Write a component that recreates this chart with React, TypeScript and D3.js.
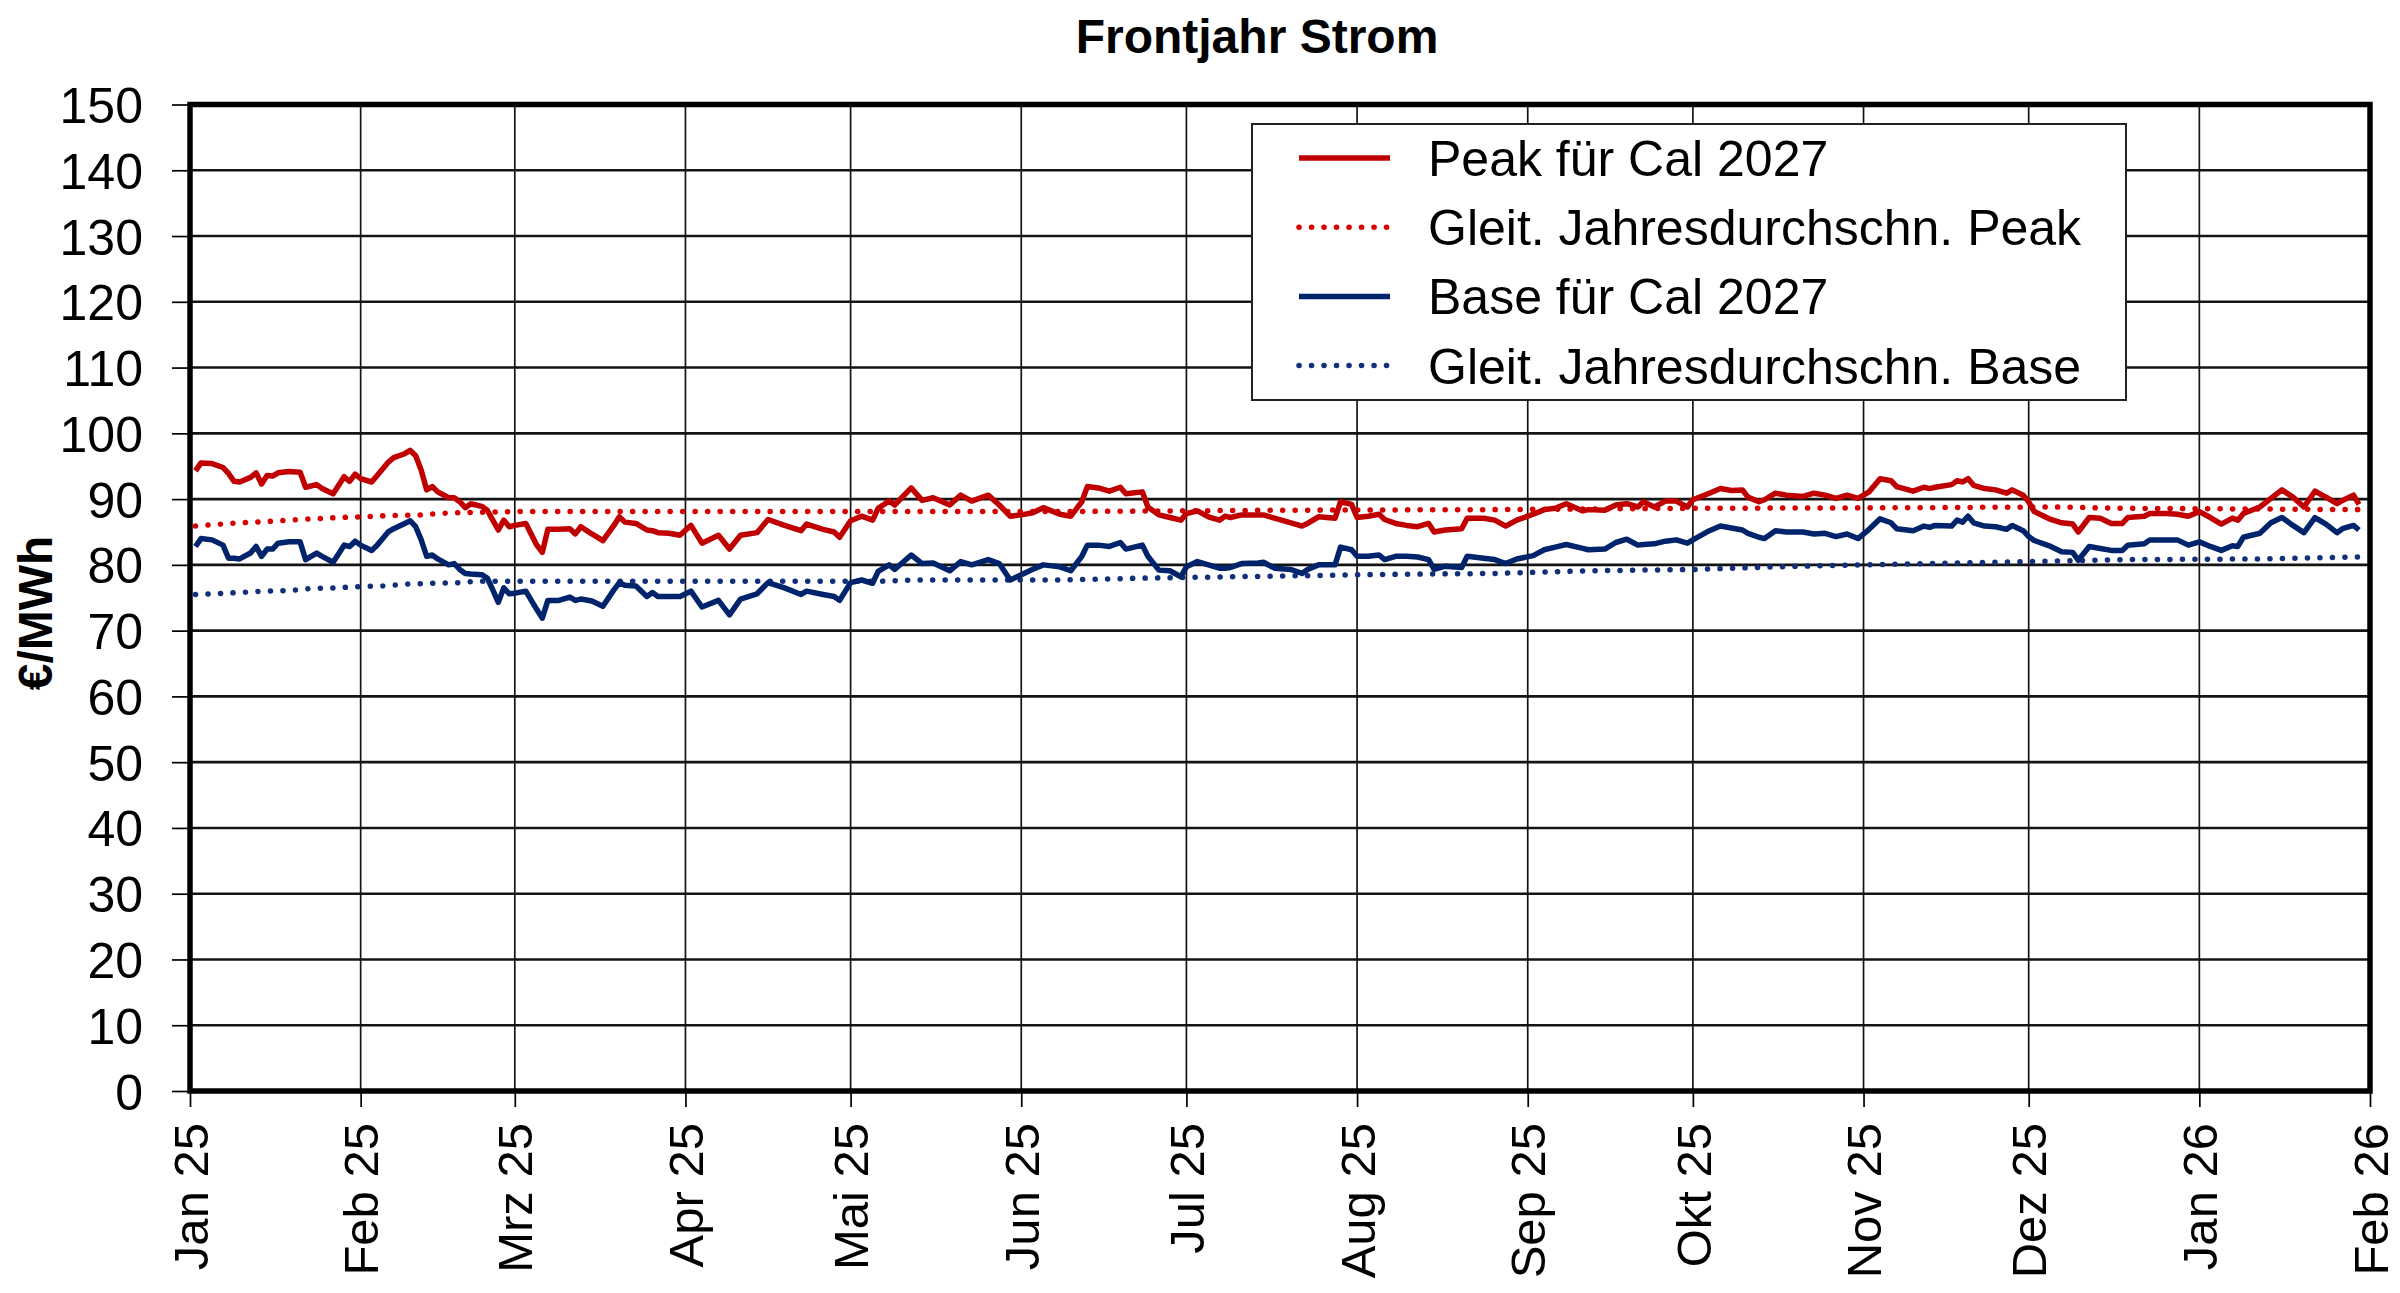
import { useEffect, useRef } from 'react';
import * as d3 from 'd3';

// Handelstage mit Peak und Base Cal 2027 in €/MWh
const tradeDates = [
  '2025-01-02', '2025-01-03', '2025-01-05', '2025-01-07', '2025-01-08', '2025-01-09', '2025-01-10', '2025-01-12',
  '2025-01-13', '2025-01-14', '2025-01-15', '2025-01-16', '2025-01-17', '2025-01-19', '2025-01-21', '2025-01-22',
  '2025-01-24', '2025-01-25', '2025-01-27', '2025-01-29', '2025-01-30', '2025-01-31', '2025-02-01', '2025-02-03',
  '2025-02-04', '2025-02-06', '2025-02-07', '2025-02-09', '2025-02-10', '2025-02-11', '2025-02-12', '2025-02-13',
  '2025-02-14', '2025-02-15', '2025-02-17', '2025-02-18', '2025-02-19', '2025-02-20', '2025-02-21', '2025-02-23',
  '2025-02-24', '2025-02-25', '2025-02-26', '2025-02-27', '2025-02-28', '2025-03-01', '2025-03-03', '2025-03-05',
  '2025-03-06', '2025-03-07', '2025-03-09', '2025-03-11', '2025-03-12', '2025-03-13', '2025-03-15', '2025-03-17',
  '2025-03-19', '2025-03-20', '2025-03-21', '2025-03-23', '2025-03-25', '2025-03-26', '2025-03-27', '2025-03-29',
  '2025-03-31', '2025-04-02', '2025-04-04', '2025-04-07', '2025-04-09', '2025-04-11', '2025-04-14', '2025-04-16',
  '2025-04-19', '2025-04-22', '2025-04-23', '2025-04-26', '2025-04-28', '2025-04-29', '2025-05-01', '2025-05-03',
  '2025-05-05', '2025-05-06', '2025-05-08', '2025-05-09', '2025-05-12', '2025-05-14', '2025-05-16', '2025-05-19',
  '2025-05-21', '2025-05-23', '2025-05-26', '2025-05-28', '2025-05-30', '2025-06-01', '2025-06-03', '2025-06-05',
  '2025-06-08', '2025-06-10', '2025-06-12', '2025-06-13', '2025-06-15', '2025-06-17', '2025-06-19', '2025-06-20',
  '2025-06-23', '2025-06-24', '2025-06-26', '2025-06-28', '2025-06-30', '2025-07-01', '2025-07-03', '2025-07-05',
  '2025-07-07', '2025-07-08', '2025-07-09', '2025-07-11', '2025-07-14', '2025-07-15', '2025-07-17', '2025-07-20',
  '2025-07-22', '2025-07-23', '2025-07-25', '2025-07-28', '2025-07-29', '2025-07-31', '2025-08-01', '2025-08-03',
  '2025-08-05', '2025-08-06', '2025-08-08', '2025-08-10', '2025-08-12', '2025-08-14', '2025-08-15', '2025-08-17',
  '2025-08-20', '2025-08-21', '2025-08-24', '2025-08-26', '2025-08-28', '2025-08-30', '2025-09-02', '2025-09-04',
  '2025-09-06', '2025-09-08', '2025-09-11', '2025-09-12', '2025-09-15', '2025-09-17', '2025-09-19', '2025-09-21',
  '2025-09-22', '2025-09-24', '2025-09-26', '2025-09-28', '2025-09-30', '2025-10-01', '2025-10-04', '2025-10-06',
  '2025-10-08', '2025-10-10', '2025-10-11', '2025-10-13', '2025-10-14', '2025-10-16', '2025-10-18', '2025-10-21',
  '2025-10-23', '2025-10-25', '2025-10-27', '2025-10-29', '2025-10-31', '2025-11-02', '2025-11-04', '2025-11-06',
  '2025-11-07', '2025-11-10', '2025-11-12', '2025-11-13', '2025-11-14', '2025-11-17', '2025-11-18', '2025-11-19',
  '2025-11-20', '2025-11-21', '2025-11-23', '2025-11-25', '2025-11-27', '2025-11-28', '2025-11-30', '2025-12-01',
  '2025-12-02', '2025-12-05', '2025-12-07', '2025-12-09', '2025-12-10', '2025-12-12', '2025-12-14', '2025-12-16',
  '2025-12-18', '2025-12-19', '2025-12-22', '2025-12-23', '2025-12-26', '2025-12-28', '2025-12-30', '2026-01-01',
  '2026-01-03', '2026-01-05', '2026-01-07', '2026-01-08', '2026-01-09', '2026-01-12', '2026-01-14', '2026-01-16',
  '2026-01-18', '2026-01-20', '2026-01-22', '2026-01-24', '2026-01-26', '2026-01-27', '2026-01-29', '2026-01-30',
];

const peakCal27 = [
  94.3, 95.5, 95.4, 94.8, 93.9, 92.7, 92.6, 93.3, 94.0, 92.3, 93.6, 93.5, 94.0, 94.2, 94.1, 91.8,
  92.2, 91.6, 90.8, 93.4, 92.7, 93.8, 93.1, 92.6, 93.6, 95.6, 96.3, 96.9, 97.4, 96.6, 94.4, 91.4,
  91.9, 91.1, 90.2, 90.2, 89.6, 88.7, 89.3, 88.9, 88.3, 86.8, 85.3, 86.8, 85.8, 86.0, 86.3, 83.0,
  81.9, 85.4, 85.4, 85.5, 84.7, 85.8, 84.7, 83.7, 86.0, 87.3, 86.5, 86.3, 85.3, 85.2, 84.9, 84.8,
  84.5, 86.0, 83.3, 84.5, 82.4, 84.5, 84.9, 86.9, 86.0, 85.2, 86.2, 85.4, 85.0, 84.2, 86.7, 87.4,
  86.8, 88.6, 89.7, 89.1, 91.7, 89.8, 90.2, 89.1, 90.6, 89.7, 90.6, 89.1, 87.4, 87.6, 87.9, 88.7,
  87.7, 87.4, 89.6, 91.9, 91.7, 91.2, 91.8, 90.8, 91.1, 88.8, 87.6, 87.2, 86.8, 87.8, 88.2, 87.3,
  86.8, 87.4, 87.2, 87.6, 87.6, 87.6, 87.1, 86.4, 85.9, 86.3, 87.3, 87.1, 89.6, 89.2, 87.2, 87.4,
  87.7, 86.9, 86.3, 86.0, 85.8, 86.3, 85.0, 85.3, 85.5, 87.1, 87.1, 86.8, 85.9, 86.8, 87.7, 88.4,
  88.6, 89.3, 88.2, 88.4, 88.3, 89.1, 89.3, 88.8, 89.6, 88.8, 89.7, 89.7, 88.8, 89.9, 90.9, 91.6,
  91.3, 91.4, 90.3, 89.6, 89.9, 90.9, 90.6, 90.4, 90.9, 90.6, 90.1, 90.6, 90.1, 91.1, 93.1, 92.8,
  91.9, 91.2, 91.8, 91.6, 91.8, 92.2, 92.8, 92.6, 93.1, 92.1, 91.6, 91.4, 90.9, 91.4, 90.6, 89.6,
  88.1, 86.9, 86.4, 86.2, 85.0, 87.2, 87.1, 86.3, 86.3, 87.2, 87.4, 87.8, 87.8, 87.7, 87.4, 88.1,
  87.2, 86.2, 87.1, 86.8, 87.8, 88.8, 90.1, 91.4, 90.3, 88.8, 91.2, 90.3, 89.3, 89.8, 90.6, 89.2,
];

const baseCal27 = [
  82.8, 84.0, 83.8, 83.0, 81.0, 81.0, 80.9, 81.8, 82.8, 81.3, 82.4, 82.4, 83.3, 83.5, 83.5, 80.8,
  81.8, 81.3, 80.4, 83.0, 82.8, 83.6, 83.0, 82.2, 83.0, 85.0, 85.5, 86.3, 86.7, 85.8, 83.8, 81.3,
  81.5, 80.9, 80.0, 80.2, 79.3, 78.7, 78.6, 78.5, 78.0, 76.2, 74.3, 76.5, 75.6, 75.7, 76.0, 73.2,
  71.9, 74.6, 74.6, 75.1, 74.6, 74.8, 74.5, 73.7, 76.2, 77.3, 76.9, 76.8, 75.2, 75.8, 75.2, 75.2,
  75.2, 76.0, 73.6, 74.6, 72.4, 74.8, 75.6, 77.3, 76.5, 75.5, 76.0, 75.5, 75.2, 74.6, 77.3, 77.7,
  77.2, 79.0, 80.0, 79.3, 81.5, 80.2, 80.3, 79.1, 80.5, 80.0, 80.8, 80.2, 77.7, 78.5, 79.3, 80.0,
  79.7, 79.1, 81.3, 83.0, 83.0, 82.8, 83.4, 82.4, 83.0, 81.3, 79.2, 79.1, 78.2, 79.7, 80.5, 80.0,
  79.5, 79.5, 79.6, 80.2, 80.3, 80.4, 79.5, 79.3, 78.7, 79.3, 80.0, 80.0, 82.7, 82.3, 81.3, 81.3,
  81.5, 80.8, 81.3, 81.3, 81.2, 80.8, 79.3, 79.8, 79.6, 81.3, 81.0, 80.8, 80.2, 80.9, 81.4, 82.3,
  82.7, 83.1, 82.5, 82.3, 82.4, 83.4, 83.9, 83.0, 83.1, 83.2, 83.6, 83.8, 83.3, 83.8, 85.2, 85.9,
  85.6, 85.3, 84.8, 84.2, 84.0, 85.2, 85.0, 85.0, 84.7, 84.8, 84.3, 84.7, 84.0, 85.4, 87.0, 86.4,
  85.5, 85.2, 85.9, 85.7, 86.0, 85.9, 86.8, 86.5, 87.4, 86.4, 85.9, 85.8, 85.4, 86.0, 85.2, 84.3,
  83.7, 82.8, 82.0, 81.9, 80.7, 82.8, 82.5, 82.2, 82.2, 83.0, 83.2, 83.8, 83.8, 83.8, 83.0, 83.5,
  82.8, 82.2, 82.9, 82.8, 84.2, 84.8, 86.4, 87.2, 86.0, 84.9, 87.2, 86.2, 84.9, 85.5, 86.0, 85.3,
];

// Gleitende Jahresdurchschnitte
const avgDatesPeak = [
  '2025-01-02', '2025-01-05', '2025-01-10', '2025-01-15', '2025-01-19', '2025-01-23', '2025-01-28', '2025-02-01',
  '2025-02-06', '2025-02-12', '2025-02-17', '2025-02-22', '2025-03-01', '2025-04-15', '2025-06-08', '2025-07-15',
  '2025-08-26', '2025-10-01', '2025-11-13', '2025-12-05', '2025-12-18', '2026-01-10', '2026-01-30',
];
const peakAvg = [
  85.9, 86.1, 86.4, 86.6, 86.8, 87.0, 87.2, 87.3, 87.5, 87.6, 87.9, 88.0, 88.1, 88.1, 88.1, 88.3,
  88.4, 88.6, 88.7, 88.8, 88.6, 88.5, 88.4,
];

const avgDatesBase = [
  '2025-01-02', '2025-01-05', '2025-01-10', '2025-01-14', '2025-01-19', '2025-01-23', '2025-01-27', '2025-02-01',
  '2025-02-05', '2025-02-10', '2025-02-14', '2025-02-19', '2025-02-22', '2025-03-21', '2025-05-06', '2025-05-12',
  '2025-06-08', '2025-06-24', '2025-07-10', '2025-07-26', '2025-08-01', '2025-08-13', '2025-08-26', '2025-09-12',
  '2025-10-01', '2025-10-16', '2025-10-31', '2025-11-13', '2025-12-01', '2025-12-19', '2026-01-12', '2026-01-30',
];
const baseAvg = [
  75.5, 75.6, 75.8, 76.0, 76.1, 76.4, 76.5, 76.7, 76.8, 77.1, 77.2, 77.3, 77.5, 77.5, 77.5, 77.7,
  77.7, 78.0, 78.2, 78.4, 78.5, 78.6, 78.7, 79.1, 79.3, 79.7, 80.0, 80.2, 80.5, 80.8, 80.9, 81.2,
];

const monthTicks = [
  '2025-01-01', '2025-02-01', '2025-03-01', '2025-04-01', '2025-05-01', '2025-06-01', '2025-07-01',
  '2025-08-01', '2025-09-01', '2025-10-01', '2025-11-01', '2025-12-01', '2026-01-01', '2026-02-01',
];
const monthLabels = [
  'Jan 25', 'Feb 25', 'Mrz 25', 'Apr 25', 'Mai 25', 'Jun 25', 'Jul 25',
  'Aug 25', 'Sep 25', 'Okt 25', 'Nov 25', 'Dez 25', 'Jan 26', 'Feb 26',
];
const yTicks = [0, 10, 20, 30, 40, 50, 60, 70, 80, 90, 100, 110, 120, 130, 140, 150];

const legendLabels = [
  'Peak für Cal 2027',
  'Gleit. Jahresdurchschn. Peak',
  'Base für Cal 2027',
  'Gleit. Jahresdurchschn. Base',
];

const FONT = '"Liberation Sans", Arial, sans-serif';
const RED = '#c00000';
const RED_DOT = '#d60000';
const BLUE = '#00246b';
const BLUE_DOT = '#12307a';

export default function App() {
  const svgRef = useRef<SVGSVGElement>(null);
  const width = 2400;
  const height = 1293;

  useEffect(() => {
    if (!svgRef.current) return;
    const parse = d3.timeParse('%Y-%m-%d');
    const left = 190;
    const right = 2370;
    const top = 104.5;
    const bottom = 1091;

    d3.select(svgRef.current).selectAll('*').remove();
    const svg = d3.select(svgRef.current).attr('width', width).attr('height', height);
    svg.append('rect').attr('width', width).attr('height', height).attr('fill', '#fff');

    const x = d3
      .scaleTime()
      .domain([parse(monthTicks[0])!, parse(monthTicks[monthTicks.length - 1])!])
      .range([left, right]);
    const y = d3.scaleLinear().domain([0, 150]).range([bottom, top]);

    // Gitternetz
    svg
      .append('g')
      .selectAll('line')
      .data(yTicks.slice(1, -1))
      .join('line')
      .attr('x1', left)
      .attr('x2', right)
      .attr('y1', (d) => y(d))
      .attr('y2', (d) => y(d))
      .attr('stroke', '#141414')
      .attr('stroke-width', 2.6);

    svg
      .append('g')
      .selectAll('line')
      .data(monthTicks.slice(1, -1))
      .join('line')
      .attr('x1', (d) => x(parse(d)!))
      .attr('x2', (d) => x(parse(d)!))
      .attr('y1', top)
      .attr('y2', bottom)
      .attr('stroke', '#141414')
      .attr('stroke-width', 1.7);

    // Achsen
    const yAxis = svg
      .append('g')
      .attr('transform', `translate(${left},0)`)
      .call(d3.axisLeft(y).tickValues(yTicks).tickSize(18).tickPadding(29).tickFormat(d3.format('d')));
    yAxis.select('.domain').remove();
    yAxis.selectAll('line').attr('stroke', '#000').attr('stroke-width', 1.7);
    yAxis
      .selectAll('text')
      .attr('dy', '0.36em')
      .style('font-family', FONT)
      .style('font-size', '50px')
      .attr('fill', '#000');

    const xAxis = svg
      .append('g')
      .attr('transform', `translate(0,${bottom})`)
      .call(
        d3
          .axisBottom(x)
          .tickValues(monthTicks.map((d) => parse(d)!))
          .tickSize(16)
          .tickFormat((_, i) => monthLabels[i])
      );
    xAxis.select('.domain').remove();
    xAxis.selectAll('line').attr('stroke', '#000').attr('stroke-width', 1.7);
    xAxis
      .selectAll('text')
      .attr('y', 0)
      .attr('x', -32)
      .attr('dy', '0.35em')
      .attr('transform', 'rotate(-90)')
      .style('text-anchor', 'end')
      .style('font-family', FONT)
      .style('font-size', '49px')
      .attr('fill', '#000');

    // Rahmen
    svg
      .append('rect')
      .attr('x', left)
      .attr('y', top)
      .attr('width', right - left)
      .attr('height', bottom - top)
      .attr('fill', 'none')
      .attr('stroke', '#000')
      .attr('stroke-width', 5.5);

    // Linien
    const line = d3
      .line<[string, number]>()
      .x((d) => x(parse(d[0])!))
      .y((d) => y(d[1]));

    const dotted = (dates: string[], values: number[], color: string) =>
      svg
        .append('path')
        .attr('d', line(dates.map((d, i) => [d, values[i]])))
        .attr('fill', 'none')
        .attr('stroke', color)
        .attr('stroke-width', 5.5)
        .attr('stroke-linecap', 'round')
        .attr('stroke-dasharray', '0.1 12.4');

    const solid = (values: number[], color: string) =>
      svg
        .append('path')
        .attr('d', line(tradeDates.map((d, i) => [d, values[i]])))
        .attr('fill', 'none')
        .attr('stroke', color)
        .attr('stroke-width', 5.5)
        .attr('stroke-linejoin', 'round');

    dotted(avgDatesPeak, peakAvg, RED_DOT);
    dotted(avgDatesBase, baseAvg, BLUE_DOT);
    solid(peakCal27, RED);
    solid(baseCal27, BLUE);

    // Legende
    const legend = svg.append('g');
    legend
      .append('rect')
      .attr('x', 1252)
      .attr('y', 124)
      .attr('width', 874)
      .attr('height', 276)
      .attr('fill', '#fff')
      .attr('stroke', '#222')
      .attr('stroke-width', 2);

    const legendStyles = [
      { color: RED, dash: null },
      { color: RED_DOT, dash: '0.1 12.4' },
      { color: BLUE, dash: null },
      { color: BLUE_DOT, dash: '0.1 12.4' },
    ];

    legendLabels.forEach((label, i) => {
      const cy = 158 + i * 69.2;
      const s = legendStyles[i];
      const l = legend
        .append('line')
        .attr('x1', 1299)
        .attr('x2', 1390)
        .attr('y1', cy)
        .attr('y2', cy)
        .attr('stroke', s.color)
        .attr('stroke-width', 5.5);
      if (s.dash) l.attr('stroke-dasharray', s.dash).attr('stroke-linecap', 'round');
      legend
        .append('text')
        .attr('x', 1428)
        .attr('y', cy + 18)
        .style('font-family', FONT)
        .style('font-size', '50px')
        .attr('fill', '#000')
        .text(label);
    });

    // Titel
    svg
      .append('text')
      .attr('x', 1257)
      .attr('y', 53)
      .attr('text-anchor', 'middle')
      .style('font-family', FONT)
      .style('font-size', '48px')
      .style('font-weight', 'bold')
      .text('Frontjahr Strom');

    // Achsentitel
    svg
      .append('text')
      .attr('transform', 'translate(52,613) rotate(-90)')
      .attr('text-anchor', 'middle')
      .style('font-family', FONT)
      .style('font-size', '48px')
      .style('font-weight', 'bold')
      .text('€/MWh');
  }, []);

  return (
    <div style={{ position: 'absolute', left: 0, top: 0 }}>
      <svg ref={svgRef} width={width} height={height}></svg>
    </div>
  );
}
